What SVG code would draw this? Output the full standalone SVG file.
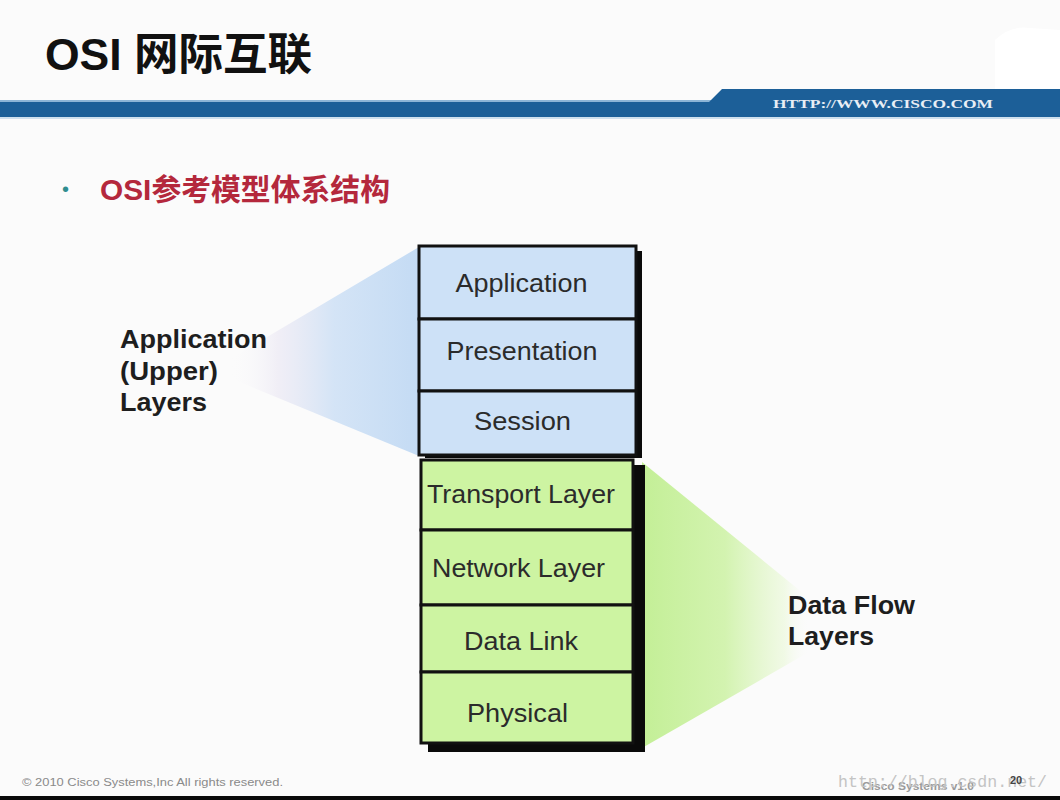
<svg xmlns="http://www.w3.org/2000/svg" width="1060" height="800" viewBox="0 0 1060 800">
  <defs>
    <linearGradient id="blueFan" gradientUnits="userSpaceOnUse" x1="419" y1="0" x2="230" y2="0">
      <stop offset="0" stop-color="#c4dbf4"/>
      <stop offset="0.45" stop-color="#d4e4f6"/>
      <stop offset="0.75" stop-color="#ece9f4" stop-opacity="0.7"/>
      <stop offset="1" stop-color="#fbfbfb" stop-opacity="0"/>
    </linearGradient>
    <linearGradient id="greenFan" gradientUnits="userSpaceOnUse" x1="640" y1="0" x2="810" y2="0">
      <stop offset="0" stop-color="#c3ef96"/>
      <stop offset="0.5" stop-color="#d3f3b0"/>
      <stop offset="0.85" stop-color="#eef9e0" stop-opacity="0.8"/>
      <stop offset="1" stop-color="#fbfbfb" stop-opacity="0"/>
    </linearGradient>
    <style>
      .layer-blue { fill: #cde1f7; stroke: #111; stroke-width: 3; }
      .layer-green { fill: #cdf4a2; stroke: #111; stroke-width: 3; }
      .shadow { fill: #0a0a0a; }
      .lt { font-family: "Liberation Sans", Arial, sans-serif; font-size: 26px; fill: #2b2b2b; }
      .side { font-family: "Liberation Sans", Arial, sans-serif; font-size: 25px; font-weight: bold; fill: #1e1e1e; }
    </style>
  </defs>

  <rect width="1060" height="800" fill="#fbfbfb"/>

  <!-- header -->
  <g id="header">
    <path d="M995 40 Q1010 25 1030 28 L1060 30 L1060 90 L995 90 Z" fill="#ffffff"/>
    <text x="45" y="70" font-family="'Liberation Sans', 'Noto Sans CJK SC', sans-serif" font-size="44" font-weight="bold" fill="#111" textLength="267" lengthAdjust="spacingAndGlyphs">OSI 网际互联</text>
    <rect x="0" y="100" width="712" height="2" fill="#8db5d6"/>
    <path d="M0 102 L709 102 L722 89 L1060 89 L1060 117 L0 117 Z" fill="#1c5f98"/>
    <text x="773" y="108" font-family="'Liberation Serif', serif" font-size="13" font-weight="bold" fill="#e8eef5" textLength="220" lengthAdjust="spacingAndGlyphs">HTTP://WWW.CISCO.COM</text>
    <rect x="0" y="117" width="1060" height="2" fill="#cfe0ee"/>
  </g>

  <!-- subtitle -->
  <g id="subtitle">
    <text x="62" y="196" font-family="'Liberation Sans', sans-serif" font-size="20" fill="#2f8d8f">•</text>
    <text x="100" y="200" font-family="'Liberation Sans', 'Noto Sans CJK SC', sans-serif" font-size="30" font-weight="bold" fill="#b4283c" textLength="290" lengthAdjust="spacingAndGlyphs">OSI参考模型体系结构</text>
  </g>

  <!-- fans (bracket shapes) -->
  <g id="connectors">
    <polygon points="419,247 225,362 225,376 419,456" fill="url(#blueFan)"/>
    <polygon points="642,462 830,615 830,640 642,748" fill="url(#greenFan)"/>
  </g>

  <!-- stack shadows -->
  <g id="stack-shadow">
    <rect class="shadow" x="425" y="251" width="217" height="207"/>
    <rect class="shadow" x="428" y="465" width="217" height="287"/>
  </g>

  <g id="layer-application">
    <rect class="layer-blue" x="419" y="246" width="217" height="73"/>
    <text class="lt" x="521.5" y="292" text-anchor="middle" textLength="132" lengthAdjust="spacingAndGlyphs">Application</text>
  </g>
  <g id="layer-presentation">
    <rect class="layer-blue" x="419" y="319" width="217" height="72"/>
    <text class="lt" x="522" y="360" text-anchor="middle" textLength="151" lengthAdjust="spacingAndGlyphs">Presentation</text>
  </g>
  <g id="layer-session">
    <rect class="layer-blue" x="419" y="391" width="217" height="64"/>
    <text class="lt" x="522.5" y="430" text-anchor="middle" textLength="97" lengthAdjust="spacingAndGlyphs">Session</text>
  </g>
  <g id="layer-transport">
    <rect class="layer-green" x="421" y="460" width="212" height="70"/>
    <text class="lt" x="521" y="503" text-anchor="middle" textLength="188" lengthAdjust="spacingAndGlyphs">Transport Layer</text>
  </g>
  <g id="layer-network">
    <rect class="layer-green" x="421" y="530" width="212" height="75"/>
    <text class="lt" x="518.5" y="577" text-anchor="middle" textLength="173" lengthAdjust="spacingAndGlyphs">Network Layer</text>
  </g>
  <g id="layer-datalink">
    <rect class="layer-green" x="421" y="605" width="212" height="67"/>
    <text class="lt" x="521" y="650" text-anchor="middle" textLength="114" lengthAdjust="spacingAndGlyphs">Data Link</text>
  </g>
  <g id="layer-physical">
    <rect class="layer-green" x="421" y="672" width="212" height="71"/>
    <text class="lt" x="517.5" y="722" text-anchor="middle" textLength="101" lengthAdjust="spacingAndGlyphs">Physical</text>
  </g>

  <g id="label-upper">
    <text class="side" x="120" y="348" textLength="147" lengthAdjust="spacingAndGlyphs">Application</text>
    <text class="side" x="120" y="380" textLength="98" lengthAdjust="spacingAndGlyphs">(Upper)</text>
    <text class="side" x="120" y="411" textLength="87" lengthAdjust="spacingAndGlyphs">Layers</text>
  </g>
  <g id="label-dataflow">
    <text class="side" x="788" y="614" textLength="127" lengthAdjust="spacingAndGlyphs">Data Flow</text>
    <text class="side" x="788" y="645" textLength="86" lengthAdjust="spacingAndGlyphs">Layers</text>
  </g>

  <!-- footer -->
  <g id="footer">
    <text x="22" y="786" font-family="'Liberation Sans', sans-serif" font-size="10" fill="#8a8a8a" textLength="261" lengthAdjust="spacingAndGlyphs">© 2010 Cisco Systems,Inc All rights reserved.</text>
    <text x="862" y="790" font-family="'Liberation Sans', sans-serif" font-size="10" font-weight="bold" fill="#9a9a9a" textLength="112" lengthAdjust="spacingAndGlyphs">Cisco Systems v1.0</text>
    <text x="838" y="787" font-family="'Liberation Mono', monospace" font-size="17" fill="#c4c4c4" textLength="209" lengthAdjust="spacingAndGlyphs">http://blog.csdn.net/</text>
    <text x="1010" y="784" font-family="'Liberation Sans', sans-serif" font-size="11" font-weight="bold" fill="#444">20</text>
    <rect x="0" y="796" width="1060" height="4" fill="#0b0b0b"/>
  </g>
</svg>
